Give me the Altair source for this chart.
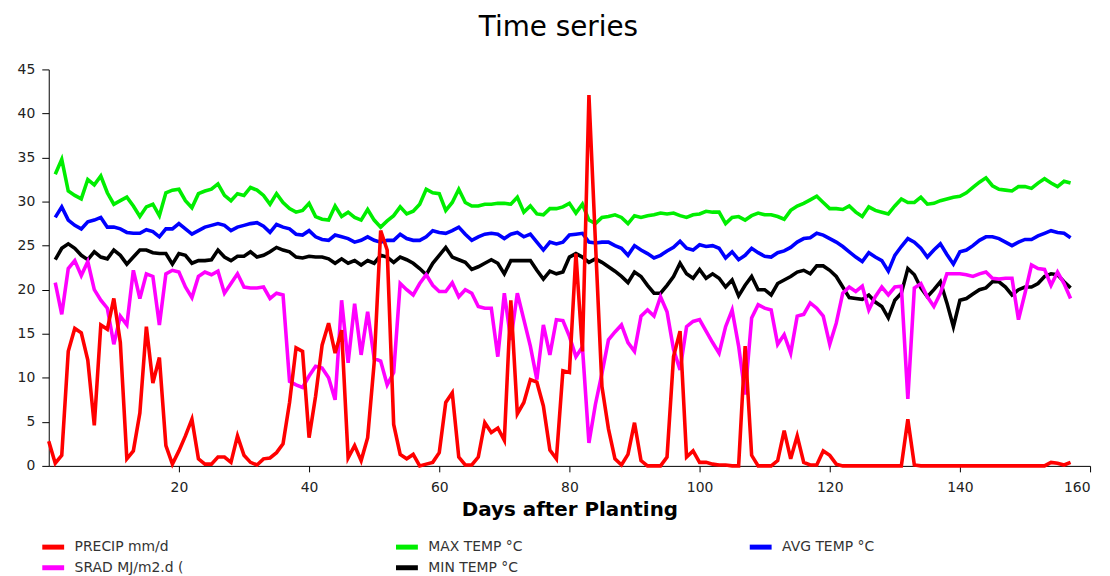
import altair as alt
import pandas as pd

# ---- data ----
days = list(range(1, 158))
precip_days = list(range(0, 158))

precip = [
    2.8, 0.3, 1.2, 13.0, 15.6, 15.1, 12.0, 4.6, 16.0, 15.5,
    19.0, 14.0, 0.8, 1.7, 6.0, 15.8, 9.4, 12.3, 2.3, 0.2,
    1.7, 3.4, 5.3, 0.8, 0.2, 0.2, 1.0, 1.0, 0.4, 3.4,
    1.2, 0.4, 0.1, 0.8, 0.9, 1.5, 2.5, 7.2, 13.4, 13.0,
    3.2, 7.9, 13.7, 16.2, 12.8, 15.4, 0.9, 2.3, 0.6, 3.2,
    11.7, 26.7, 24.5, 4.7, 1.3, 0.8, 1.3, 0.0, 0.2, 0.4,
    1.5, 7.2, 8.3, 1.0, 0.1, 0.1, 1.0, 4.9, 3.8, 4.3,
    2.9, 18.8, 5.9, 7.2, 9.8, 9.5, 6.8, 1.8, 0.8, 10.8,
    10.6, 24.1, 13.0, 42.1, 25.4, 9.0, 4.2, 0.8, 0.1, 1.3,
    4.9, 0.6, 0.0, 0.0, 0.0, 1.0, 12.4, 15.3, 1.0, 1.7,
    0.4, 0.4, 0.2, 0.1, 0.1, 0.0, 0.0, 13.6, 1.2, 0.0,
    0.0, 0.0, 0.6, 4.0, 0.8, 3.4, 0.4, 0.1, 0.1, 1.7,
    1.2, 0.2, 0.0, 0.0, 0.0, 0.0, 0.0, 0.0, 0.0, 0.0,
    0.0, 0.0, 5.3, 0.1, 0.0, 0.0, 0.0, 0.0, 0.0, 0.0,
    0.0, 0.0, 0.0, 0.0, 0.0, 0.0, 0.0, 0.0, 0.0, 0.0,
    0.0, 0.0, 0.0, 0.0, 0.4, 0.3, 0.1, 0.4,
]

max_temp = [
    33.1, 34.8, 31.2, 30.7, 30.3, 32.5, 31.9, 32.9, 31.0, 29.7,
    30.1, 30.5, 29.5, 28.3, 29.4, 29.7, 28.4, 31.0, 31.3, 31.4,
    30.1, 29.3, 30.9, 31.2, 31.4, 32.0, 30.7, 30.1, 30.9, 30.7,
    31.6, 31.3, 30.7, 29.7, 30.9, 29.9, 29.2, 28.8, 29.0, 29.8,
    28.3, 28.0, 27.9, 29.5, 28.3, 28.8, 28.2, 27.9, 29.1, 27.9,
    27.1, 27.8, 28.4, 29.4, 28.6, 28.9, 29.7, 31.4, 31.0, 30.9,
    29.0, 29.9, 31.4, 29.9, 29.5, 29.5, 29.7, 29.7, 29.8, 29.8,
    29.7, 30.5, 28.8, 29.5, 28.6, 28.5, 29.2, 29.2, 29.4, 29.8,
    28.7, 29.7, 27.9, 27.5, 28.2, 28.3, 28.5, 28.2, 27.5, 28.4,
    28.2, 28.4, 28.5, 28.7, 28.6, 28.7, 28.4, 28.2, 28.5, 28.6,
    28.9, 28.8, 28.8, 27.5, 28.2, 28.3, 27.9, 28.4, 28.7, 28.5,
    28.5, 28.3, 28.0, 29.0, 29.5, 29.8, 30.2, 30.6, 29.9, 29.2,
    29.2, 29.1, 29.5, 28.8, 28.3, 29.4, 29.0, 28.8, 28.6, 29.5,
    30.3, 29.9, 29.9, 30.5, 29.7, 29.8, 30.1, 30.3, 30.5, 30.6,
    31.0, 31.6, 32.2, 32.7, 31.8, 31.4, 31.3, 31.2, 31.7, 31.7,
    31.5, 32.1, 32.6, 32.1, 31.7, 32.3, 32.1,
]

avg_temp = [
    28.2, 29.4, 27.9, 27.3, 26.9, 27.7, 27.9, 28.2, 27.1, 27.1,
    26.9, 26.5, 26.4, 26.4, 26.8, 26.6, 26.0, 26.9, 26.9, 27.5,
    26.9, 26.3, 26.7, 27.1, 27.3, 27.5, 27.3, 26.7, 27.1, 27.3,
    27.5, 27.6, 27.2, 26.5, 27.4, 27.1, 26.9, 26.3, 26.2, 26.7,
    26.0, 25.7, 25.6, 26.2, 26.0, 25.8, 25.4, 25.6, 26.0, 25.6,
    25.4, 25.6, 25.6, 26.3, 25.8, 25.6, 25.6, 26.0, 26.7, 26.5,
    26.4, 26.7, 27.1, 26.3, 25.6, 26.0, 26.3, 26.4, 26.3, 25.8,
    26.3, 26.5, 26.0, 26.3, 25.4, 24.5, 25.4, 25.2, 25.4, 26.2,
    26.3, 26.4, 25.4, 25.3, 25.4, 25.4, 25.0, 24.7, 23.9, 25.0,
    24.5, 24.1, 23.6, 23.9, 24.4, 24.8, 25.5, 24.7, 24.5, 25.1,
    24.9, 25.0, 24.7, 23.6, 24.3, 23.4, 23.9, 24.7, 24.2, 23.8,
    23.7, 24.2, 24.4, 24.8, 25.4, 25.8, 25.9, 26.4, 26.2, 25.8,
    25.4, 24.9, 24.3, 23.7, 23.2, 24.2, 23.7, 23.3, 22.1, 23.9,
    24.9, 25.8, 25.4, 24.7, 23.7, 24.5, 25.2, 24.0, 22.9, 24.3,
    24.5, 25.0, 25.6, 26.0, 26.0, 25.8, 25.4, 25.0, 25.4, 25.7,
    25.7, 26.1, 26.4, 26.7, 26.5, 26.4, 25.9,
]

min_temp = [
    23.4, 24.7, 25.2, 24.7, 23.9, 23.4, 24.3, 23.7, 23.5, 24.5,
    23.9, 22.9, 23.7, 24.5, 24.5, 24.2, 24.1, 24.1, 22.9, 24.1,
    23.9, 23.0, 23.3, 23.3, 23.4, 24.5, 23.7, 23.3, 23.8, 23.8,
    24.3, 23.7, 23.9, 24.3, 24.8, 24.5, 24.3, 23.7, 23.6, 23.8,
    23.7, 23.7, 23.5, 23.0, 23.5, 23.0, 23.3, 22.8, 23.3, 23.0,
    23.9, 23.7, 23.1, 23.7, 23.4, 23.0, 22.4, 21.7, 23.0, 23.9,
    24.8, 23.7, 23.4, 23.1, 22.3, 22.6, 23.0, 23.4, 23.0, 21.8,
    23.3, 23.3, 23.3, 23.3, 22.2, 21.2, 22.1, 21.8, 22.0, 23.7,
    24.1, 23.7, 23.1, 23.5, 23.1, 22.6, 22.1, 21.5, 20.8, 22.0,
    21.5, 20.5, 19.6, 19.6, 20.5, 21.5, 23.0, 21.8, 21.3, 22.3,
    21.3, 21.8, 21.3, 20.3, 21.1, 19.3, 20.5, 21.5, 20.0, 20.0,
    19.4, 20.7, 21.1, 21.5, 22.0, 22.2, 21.8, 22.7, 22.7, 22.2,
    21.5, 20.3, 19.1, 19.0, 18.9, 19.4, 18.6, 18.1, 16.8, 18.8,
    19.6, 22.4, 21.7, 20.2, 19.2, 20.0, 20.9, 18.5, 15.8, 18.8,
    19.0, 19.5, 20.0, 20.2, 20.9, 20.9, 20.3, 19.4, 20.0, 20.3,
    20.3, 20.7, 21.5, 21.8, 21.7, 20.9, 20.2,
]

srad = [
    20.8, 17.2, 22.4, 23.3, 21.6, 23.2, 20.0, 18.8, 17.9, 13.8,
    17.0, 16.0, 22.2, 19.0, 21.8, 21.5, 16.0, 21.8, 22.2, 22.0,
    20.3, 19.1, 21.5, 22.0, 21.7, 22.1, 19.6, 20.7, 21.8, 20.3,
    20.2, 20.2, 20.3, 19.0, 19.6, 19.4, 9.6, 9.2, 8.9, 10.2,
    11.3, 11.1, 10.0, 7.5, 18.8, 11.7, 18.4, 12.6, 17.5, 12.2,
    11.9, 9.2, 10.6, 20.7, 20.0, 19.4, 20.7, 21.7, 20.5, 19.8,
    19.8, 20.8, 19.2, 20.0, 19.6, 18.1, 17.9, 17.9, 12.4, 19.6,
    14.3, 19.6, 16.6, 13.6, 9.8, 16.0, 12.6, 16.6, 16.5, 14.7,
    12.4, 13.5, 2.6, 7.0, 10.5, 14.3, 15.2, 16.0, 14.0, 13.0,
    17.0, 17.7, 17.0, 19.2, 17.5, 13.2, 10.9, 15.8, 16.4, 16.6,
    15.3, 14.0, 12.8, 15.8, 17.7, 13.6, 8.1, 16.8, 18.3, 17.9,
    17.7, 13.8, 14.9, 12.8, 17.0, 17.2, 18.5, 17.9, 17.0, 13.8,
    16.2, 19.6, 20.3, 19.8, 20.4, 17.7, 19.2, 20.3, 19.4, 20.3,
    20.4, 7.6, 20.2, 20.7, 19.2, 18.1, 19.6, 21.8, 21.8, 21.8,
    21.7, 21.5, 21.8, 22.0, 21.3, 21.2, 21.3, 21.3, 16.6, 19.6,
    22.8, 22.4, 22.3, 20.5, 22.0, 20.7, 19.0,
]

assert len(precip) == len(precip_days), len(precip)
for arr in (max_temp, avg_temp, min_temp, srad):
    assert len(arr) == len(days), len(arr)

series_names = ["PRECIP mm/d", "MAX TEMP °C", "AVG TEMP °C", "SRAD MJ/m2.d (", "MIN TEMP °C"]
series_colors = ["#ff0000", "#00ee00", "#0000ff", "#ff00ff", "#000000"]
draw_order = ["MAX TEMP °C", "AVG TEMP °C", "MIN TEMP °C", "SRAD MJ/m2.d (", "PRECIP mm/d"]
x_ticks = [20, 40, 60, 80, 100, 120, 140, 160]
y_ticks = [0, 5, 10, 15, 20, 25, 30, 35, 40, 45]

rows = []
for d, v in zip(precip_days, precip):
    rows.append({"day": d, "value": v, "series": "PRECIP mm/d"})
for name, arr in (("MAX TEMP °C", max_temp), ("AVG TEMP °C", avg_temp),
                  ("SRAD MJ/m2.d (", srad), ("MIN TEMP °C", min_temp)):
    for d, v in zip(days, arr):
        rows.append({"day": d, "value": v, "series": name})
df = pd.DataFrame(rows)

FONT = "DejaVu Sans"

base = alt.Chart(df).encode(
    x=alt.X(
        "day:Q",
        scale=alt.Scale(domain=[0, 160], nice=False, zero=False),
        axis=alt.Axis(
            title="Days after Planting", values=x_ticks, grid=False,
            domainColor="#000000", tickColor="#000000", tickSize=6,
            labelFont=FONT, labelFontSize=14, labelColor="#222222", labelPadding=9,
            titleFont=FONT, titleFontSize=20, titleFontWeight="bold",
            titleColor="#000000", titlePadding=5,
        ),
    ),
    y=alt.Y(
        "value:Q",
        scale=alt.Scale(domain=[0, 45], nice=False),
        axis=alt.Axis(
            title=None, values=y_ticks, grid=False,
            domainColor="#000000", tickColor="#000000", tickSize=7,
            labelFont=FONT, labelFontSize=14, labelColor="#222222", labelPadding=7,
        ),
    ),
    color=alt.Color(
        "series:N",
        scale=alt.Scale(domain=series_names, range=series_colors),
        legend=alt.Legend(
            title=None, orient="none", legendX=-3, legendY=473,
            direction="horizontal", columns=3, columnPadding=203, rowPadding=0,
            gridAlign="all",
            symbolType="M-2.2,0H2.2", symbolStrokeWidth=5, symbolSize=100,
            labelFont=FONT, labelFontSize=14, labelColor="#333333", labelOffset=14,
            labelLimit=300, padding=0,
        ),
    ),
)

layers = [
    base.transform_filter(alt.datum.series == s).mark_line(strokeWidth=3.6)
    for s in draw_order
]

chart = alt.layer(*layers).properties(
    width=1048,
    height=399,
    title=alt.TitleParams(
        "Time series", font=FONT, fontSize=28, fontWeight="normal",
        color="#000000", anchor="middle", offset=21, dx=-11,
    ),
    autosize=alt.AutoSizeParams(type="none"),
    padding={"left": 41, "top": 60, "right": 12, "bottom": 109},
).configure(background="#ffffff").configure_view(strokeWidth=0, stroke=None)

chart.save("out.html", embed_options={"renderer": "svg", "actions": False})
